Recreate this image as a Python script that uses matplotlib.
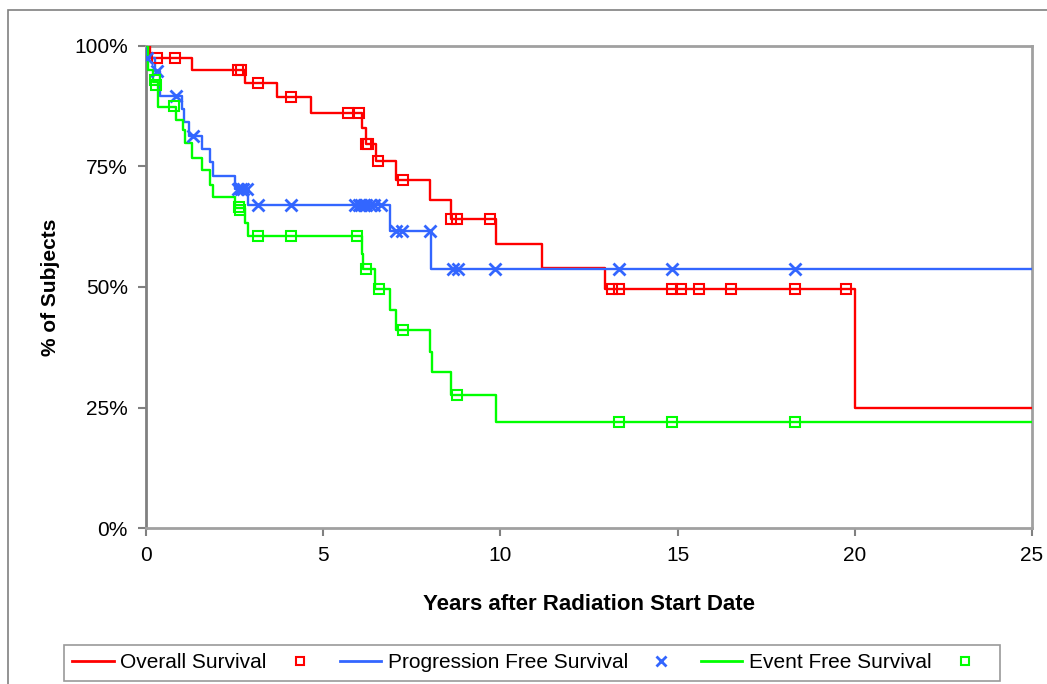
import matplotlib
matplotlib.use("Agg")
import matplotlib.pyplot as plt
from matplotlib.lines import Line2D
from matplotlib.patches import Rectangle
from matplotlib.ticker import PercentFormatter

plt.rcParams["font.family"] = ["Liberation Sans", "DejaVu Sans"]

# Overall survival (step curve + censored points)
os_t = [0, 0.12, 1.3, 2.8, 3.7, 4.66, 6.1, 6.2, 6.5, 7.05, 8.0, 8.6, 9.87, 11.17, 12.95, 20.0, 25.2]
os_s = [100, 97.5, 95.1, 92.3, 89.5, 86.2, 82.9, 79.7, 76.2, 72.1, 68.0, 64.1, 59.0, 53.9, 49.5, 24.8, 24.8]
os_ct = [0.3, 0.82, 2.6, 2.68, 3.15, 4.1, 5.7, 6.0, 6.2, 6.25, 6.55, 7.25, 8.6, 8.78, 9.7,
         13.15, 13.35, 14.85, 15.1, 15.6, 16.5, 18.3, 19.75]
os_cs = [97.5, 97.5, 95.1, 95.1, 92.3, 89.5, 86.2, 86.2, 79.7, 79.7, 76.2, 72.1, 64.1, 64.1, 64.1,
         49.5, 49.5, 49.5, 49.5, 49.5, 49.5, 49.5, 49.5]

# Progression free survival
pfs_t = [0, 0.03, 0.25, 0.4, 1.02, 1.07, 1.2, 1.58, 1.8, 1.9, 2.5, 2.88, 6.88, 8.05, 25.2]
pfs_s = [100, 97.5, 94.8, 89.6, 87.0, 84.3, 81.3, 78.6, 75.9, 73.1, 70.3, 67.0, 61.6, 53.8, 53.8]
pfs_ct = [0.03, 0.3, 0.85, 1.32, 2.6, 2.68, 2.75, 2.85, 3.15, 4.1, 5.9, 6.0, 6.07, 6.15, 6.22,
          6.32, 6.42, 6.62, 7.05, 7.22, 8.0, 8.65, 8.8, 9.85, 13.35, 14.85, 18.3]
pfs_cs = [97.5, 94.8, 89.6, 81.3, 70.3, 70.3, 70.3, 70.3, 67.0, 67.0, 67.0, 67.0, 67.0, 67.0, 67.0,
          67.0, 67.0, 67.0, 61.6, 61.6, 61.6, 53.8, 53.8, 53.8, 53.8, 53.8, 53.8]

# Event free survival
efs_t = [0, 0.07, 0.2, 0.35, 0.85, 1.05, 1.1, 1.29, 1.57, 1.8, 1.9, 2.5, 2.8, 2.88,
         6.09, 6.13, 6.46, 6.88, 7.05, 8.0, 8.06, 8.6, 9.87, 25.2]
efs_s = [100, 95.0, 92.5, 87.4, 84.6, 82.6, 79.8, 76.7, 74.2, 71.2, 68.7, 66.3, 63.3, 60.6,
         56.8, 53.7, 49.6, 45.2, 41.1, 36.5, 32.3, 27.5, 21.9, 21.9]
efs_ct = [0.25, 0.27, 0.8, 2.62, 2.66, 3.15, 4.1, 5.95, 6.2, 6.57, 7.25, 8.77, 13.35, 14.85, 18.3]
efs_cs = [93.0, 92.0, 87.6, 66.6, 66.0, 60.6, 60.6, 60.6, 53.7, 49.6, 41.1, 27.5, 21.9, 21.9, 21.9]

RED = "#ff0000"
BLUE = "#3366ff"
GREEN = "#00ff00"

fig = plt.figure(figsize=(10.47, 6.84), dpi=100)
ax = fig.add_axes([146 / 1047, 1 - 528 / 684, (1032 - 146) / 1047, (528 - 46) / 684])

sq = dict(marker="s", ms=7, mfc="none", mew=1.5, ls="none", zorder=4)
ax.step(os_t, os_s, where="post", color=RED, lw=1.7, zorder=3)
ax.step(pfs_t, pfs_s, where="post", color=BLUE, lw=1.7, zorder=3)
ax.step(efs_t, efs_s, where="post", color=GREEN, lw=1.7, zorder=3)
ax.plot(os_ct, os_cs, mec=RED, **sq)
ax.plot(pfs_ct, pfs_cs, marker="x", ms=8, mew=2, color=BLUE, ls="none", zorder=4)
ax.plot(efs_ct, efs_cs, mec=GREEN, **sq)

ax.set_xlim(0, 25)
ax.set_ylim(0, 100)
ax.set_xticks([0, 5, 10, 15, 20, 25])
ax.set_yticks([0, 25, 50, 75, 100])
ax.yaxis.set_major_formatter(PercentFormatter(decimals=0))
ax.tick_params(labelsize=15, length=6, width=1.5, color="#808080", pad=7)
for side in ["top", "right", "bottom"]:
    ax.spines[side].set_color("#a0a0a0")
    ax.spines[side].set_linewidth(2)
ax.spines["left"].set_color("#808080")
ax.spines["left"].set_linewidth(2)

ax.set_xlabel("Years after Radiation Start Date", fontsize=16, fontweight="bold", labelpad=21)
ax.set_ylabel("% of Subjects", fontsize=15, fontweight="bold", labelpad=10)

# outer chart frame
fig.patches.append(Rectangle((8 / 1047, -0.1), 1.2, 1 - 10 / 684 + 0.1, transform=fig.transFigure,
                             fill=False, edgecolor="#808080", lw=1.2))

handles = [
    Line2D([], [], color=RED, lw=2),
    Line2D([], [], marker="s", ms=6, mfc="none", mec=RED, mew=1.5, ls="none"),
    Line2D([], [], color=BLUE, lw=2),
    Line2D([], [], marker="x", ms=7, mew=2, color=BLUE, ls="none"),
    Line2D([], [], color=GREEN, lw=2),
    Line2D([], [], marker="s", ms=6, mfc="none", mec=GREEN, mew=1.5, ls="none"),
]
labels = ["Overall Survival", "", "Progression Free Survival", "", "Event Free Survival", ""]
leg = fig.legend(handles, labels, loc="center", bbox_to_anchor=(532 / 1047, 1 - 663 / 684),
                 ncol=6, fontsize=15, frameon=True, fancybox=False, edgecolor="#808080",
                 handlelength=2.0, handletextpad=0.3, columnspacing=0.6, borderpad=0.4)
leg.get_frame().set_linewidth(1.2)

fig.savefig("out.png", dpi=100)
